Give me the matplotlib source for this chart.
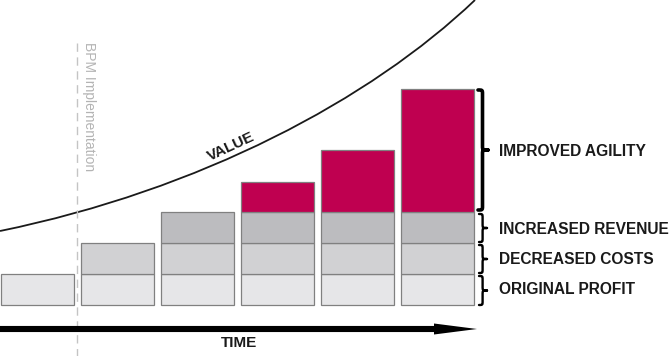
import matplotlib.pyplot as plt
import numpy as np
from matplotlib.path import Path
from matplotlib.patches import PathPatch, Polygon

plt.rcParams["font.family"] = ["Liberation Sans", "DejaVu Sans"]

INK = "#1a1a1a"
EDGE = "#808080"
COLORS = {
    "ORIGINAL PROFIT": "#e6e6e8",
    "DECREASED COSTS": "#d1d1d3",
    "INCREASED REVENUE": "#bcbcbf",
    "IMPROVED AGILITY": "#bf0050",
}

# stacked layers, in "blocks" per time step
periods = [0, 1, 2, 3, 4, 5]
original_profit = [1, 1, 1, 1, 1, 1]
decreased_costs = [0, 1, 1, 1, 1, 1]
increased_revenue = [0, 0, 1, 1, 1, 1]
improved_agility = [0, 0, 0, 0.97, 2.0, 3.97]
layers = ["ORIGINAL PROFIT", "DECREASED COSTS", "INCREASED REVENUE", "IMPROVED AGILITY"]
layer_values = [original_profit, decreased_costs, increased_revenue, improved_agility]

# "value" curve as one cubic bezier (pixel coords, y from top)
curve_ctrl_x = [0, 200, 370, 475]
curve_ctrl_y = [231, 190, 100, 0]

fig = plt.figure(figsize=(6.7, 3.56), dpi=100)
fig.patch.set_facecolor("white")

# ---------------------------------------------------------------------------
# bars
# ---------------------------------------------------------------------------
ax = fig.add_axes([0, 0, 1, 1])
ax.set_xlim(-37.5 / 80, (670 - 37.5) / 80)
ax.set_ylim(-51 / 31, 305 / 31)
ax.axis("off")

bottom = np.zeros(len(periods))
for name, vals in zip(layers, layer_values):
    vals = np.array(vals, dtype=float)
    mask = vals > 0
    ax.bar(np.array(periods)[mask], vals[mask], bottom=bottom[mask], width=0.92,
           color=COLORS[name], edgecolor=EDGE, linewidth=0.9, zorder=3)
    bottom += vals

# ---------------------------------------------------------------------------
# decorations in pixel space
# ---------------------------------------------------------------------------
deco = fig.add_axes([0, 0, 1, 1], zorder=2)
deco.set_xlim(0, 670)
deco.set_ylim(356, 0)
deco.axis("off")
deco.patch.set_alpha(0)

curve = Path(list(zip(curve_ctrl_x, curve_ctrl_y)),
             [Path.MOVETO, Path.CURVE4, Path.CURVE4, Path.CURVE4])
deco.add_patch(PathPatch(curve, facecolor="none", edgecolor=INK, lw=1.3))
deco.text(231, 147, "VALUE", rotation=25, ha="center", va="center",
          fontsize=11, fontweight="bold", color=INK, rotation_mode="anchor")

# BPM implementation marker
deco.plot([77, 77], [43, 356], color="#c4c4c4", lw=1, dashes=(6, 4))
deco.text(88.5, 107, "BPM Implementation", rotation=-90, ha="center", va="center",
          fontsize=10, color="#b4b4b4")

# time arrow
deco.plot([0, 440], [329, 329], color="black", lw=4.4, solid_capstyle="butt")
deco.add_patch(Polygon([[434, 323.5], [477, 329], [434, 334.5]], closed=True,
                       facecolor="black", edgecolor="none"))
deco.text(239, 343, "TIME", ha="center", va="center", fontsize=11, fontweight="bold", color=INK)


def brace(x0, y0, y1, w, lw):
    xm, xt = x0 + w * 0.45, x0 + w
    mid = (y0 + y1) / 2
    r = min(4.0, (y1 - y0) / 6)
    verts = [
        (x0, y0),
        (xm, y0), (xm, y0), (xm, y0 + r),
        (xm, mid - r),
        (xm, mid), (xm, mid), (xt, mid),
        (xm, mid), (xm, mid), (xm, mid + r),
        (xm, y1 - r),
        (xm, y1), (xm, y1), (x0, y1),
    ]
    codes = [Path.MOVETO,
             Path.CURVE4, Path.CURVE4, Path.CURVE4,
             Path.LINETO,
             Path.CURVE4, Path.CURVE4, Path.CURVE4,
             Path.CURVE4, Path.CURVE4, Path.CURVE4,
             Path.LINETO,
             Path.CURVE4, Path.CURVE4, Path.CURVE4]
    deco.add_patch(PathPatch(Path(verts, codes), facecolor="none", edgecolor="black",
                             lw=lw, capstyle="round", joinstyle="round"))


brace(478, 90, 210, 10, 2.6)
brace(479, 214, 242, 8, 1.7)
brace(479, 245, 273, 8, 1.7)
brace(479, 276, 305, 8, 1.7)

label_y = {"IMPROVED AGILITY": 152, "INCREASED REVENUE": 229,
           "DECREASED COSTS": 259, "ORIGINAL PROFIT": 289}
for name, y in label_y.items():
    deco.text(499, y, name, ha="left", va="center", fontsize=11.2, fontweight="bold", color=INK)

fig.savefig("out.png", dpi=100, facecolor="white")
